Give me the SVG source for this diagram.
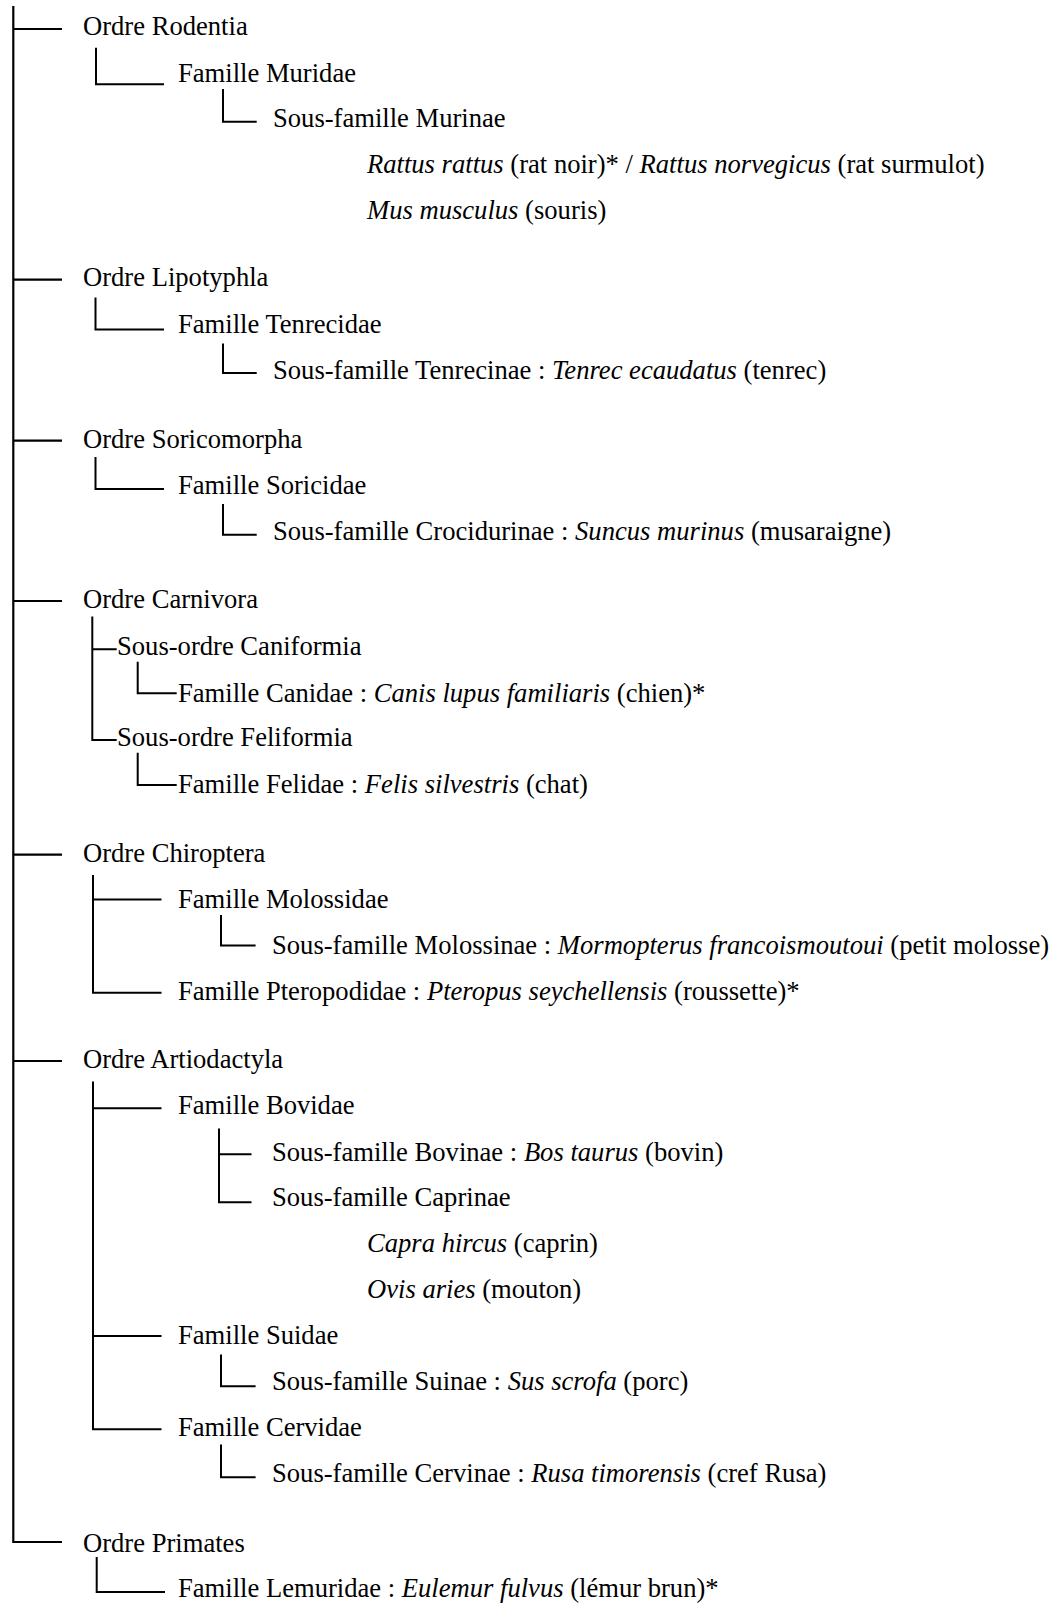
<svg xmlns="http://www.w3.org/2000/svg" width="1053" height="1603" viewBox="0 0 1053 1603">
<style>
  text { font-family: "Liberation Serif", "Times New Roman", serif; font-size: 26.6px; fill: #000; }
  .i { font-style: italic; }
  .c { fill: none; stroke: #000; stroke-width: 2; }
  .m { fill: none; stroke: #000; stroke-width: 2.2; }
</style>
<rect x="0" y="0" width="1053" height="1603" fill="#fff"/>
<g id="connectors">
  <path class="m" d="M13.3 6 V1542 H62"/>
  <path class="m" d="M13.3 29 H62 M13.3 279.6 H62 M13.3 440.6 H62 M13.3 601 H62 M13.3 854.6 H62 M13.3 1061 H62"/>
  <path class="c" d="M96 47.7 V84.3 H164"/>
  <path class="c" d="M223 89 V121.7 H256.7"/>
  <path class="c" d="M95.5 297.5 V329.5 H164"/>
  <path class="c" d="M223 343.5 V373 H256.7"/>
  <path class="c" d="M95.5 457 V489 H164"/>
  <path class="c" d="M223 504 V534.7 H256.7"/>
  <path class="c" d="M92.3 616.4 V740 H116.7 M92.3 649.3 H116.7"/>
  <path class="c" d="M137.7 661.7 V693.3 H176.7"/>
  <path class="c" d="M137.7 752.8 V785 H176.7"/>
  <path class="c" d="M93 875 V992.7 H161.5 M93 899.6 H161.5"/>
  <path class="c" d="M221 915 V945.6 H255.6"/>
  <path class="c" d="M93 1081.6 V1429.2 H161.5 M93 1108.2 H161.5 M93 1336 H161.5"/>
  <path class="c" d="M219 1128.6 V1202.2 H251.5 M219 1154.2 H251.5"/>
  <path class="c" d="M221 1354.5 V1386.2 H255.6"/>
  <path class="c" d="M221 1444.5 V1477.2 H255.6"/>
  <path class="c" d="M96.7 1557 V1592 H165"/>
</g>
<g id="rodentia"><text x="83" y="35">Ordre Rodentia</text></g>
<g id="muridae"><text x="178" y="81.5">Famille Muridae</text></g>
<g id="murinae"><text x="273" y="127.3">Sous-famille Murinae</text></g>
<g id="rattus"><text x="367" y="173"><tspan class="i">Rattus rattus</tspan> (rat noir)* / <tspan class="i">Rattus norvegicus</tspan> (rat surmulot)</text></g>
<g id="mus"><text x="367" y="219"><tspan class="i">Mus musculus</tspan> (souris)</text></g>

<g id="lipotyphla"><text x="83" y="286.1">Ordre Lipotyphla</text></g>
<g id="tenrecidae"><text x="178" y="333.1">Famille Tenrecidae</text></g>
<g id="tenrecinae"><text x="273" y="379.1">Sous-famille Tenrecinae : <tspan class="i">Tenrec ecaudatus</tspan> (tenrec)</text></g>

<g id="soricomorpha"><text x="83" y="447.6">Ordre Soricomorpha</text></g>
<g id="soricidae"><text x="178" y="493.6">Famille Soricidae</text></g>
<g id="crocidurinae"><text x="273" y="539.6">Sous-famille Crocidurinae : <tspan class="i">Suncus murinus</tspan> (musaraigne)</text></g>

<g id="carnivora"><text x="83" y="608.1">Ordre Carnivora</text></g>
<g id="caniformia"><text x="117" y="655">Sous-ordre Caniformia</text></g>
<g id="canidae"><text x="178" y="701.5">Famille Canidae : <tspan class="i">Canis lupus familiaris</tspan> (chien)*</text></g>
<g id="feliformia"><text x="117" y="746.1">Sous-ordre Feliformia</text></g>
<g id="felidae"><text x="178" y="793.1">Famille Felidae : <tspan class="i">Felis silvestris</tspan> (chat)</text></g>

<g id="chiroptera"><text x="83" y="861.6">Ordre Chiroptera</text></g>
<g id="molossidae"><text x="178" y="907.6">Famille Molossidae</text></g>
<g id="molossinae"><text x="272" y="953.6">Sous-famille Molossinae : <tspan class="i">Mormopterus francoismoutoui</tspan> (petit molosse)</text></g>
<g id="pteropodidae"><text x="178" y="999.6">Famille Pteropodidae : <tspan class="i">Pteropus seychellensis</tspan> (roussette)*</text></g>

<g id="artiodactyla"><text x="83" y="1068.1">Ordre Artiodactyla</text></g>
<g id="bovidae"><text x="178" y="1114.1">Famille Bovidae</text></g>
<g id="bovinae"><text x="272" y="1161.2">Sous-famille Bovinae : <tspan class="i">Bos taurus</tspan> (bovin)</text></g>
<g id="caprinae"><text x="272" y="1206.2">Sous-famille Caprinae</text></g>
<g id="capra"><text x="367" y="1252.2"><tspan class="i">Capra hircus</tspan> (caprin)</text></g>
<g id="ovis"><text x="367" y="1298.2"><tspan class="i">Ovis aries</tspan> (mouton)</text></g>
<g id="suidae"><text x="178" y="1344.2">Famille Suidae</text></g>
<g id="suinae"><text x="272" y="1390.2">Sous-famille Suinae : <tspan class="i">Sus scrofa</tspan> (porc)</text></g>
<g id="cervidae"><text x="178" y="1436.2">Famille Cervidae</text></g>
<g id="cervinae"><text x="272" y="1482.2">Sous-famille Cervinae : <tspan class="i">Rusa timorensis</tspan> (cref Rusa)</text></g>

<g id="primates"><text x="83" y="1551.5">Ordre Primates</text></g>
<g id="lemuridae"><text x="178" y="1597">Famille Lemuridae : <tspan class="i">Eulemur fulvus</tspan> (lémur brun)*</text></g>
</svg>
